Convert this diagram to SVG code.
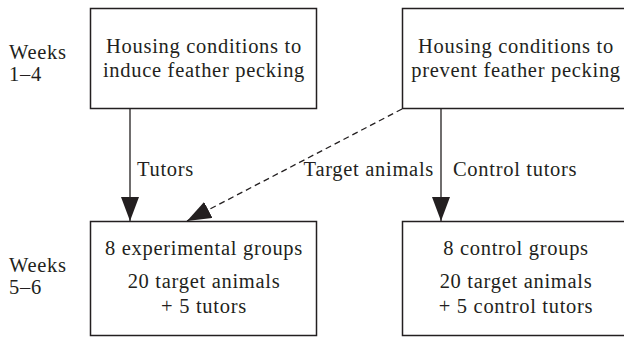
<svg xmlns="http://www.w3.org/2000/svg" width="624" height="337" viewBox="0 0 624 337">
<defs>
<style>
text{font-family:"Liberation Serif","Times New Roman",serif;font-size:20.5px;letter-spacing:0.7px;fill:#231f20}
.c{text-anchor:middle}
.box{fill:#fff;stroke:#231f20;stroke-width:1.5}
.ln{stroke:#231f20;stroke-width:1.3;fill:none}
.dash{stroke-dasharray:6 4}
</style>
<marker id="ah" markerUnits="userSpaceOnUse" viewBox="0 0 24 18" refX="24" refY="9" markerWidth="24" markerHeight="18" orient="auto">
<path d="M0,0 L24,9 L0,18 z" fill="#231f20"/>
</marker>
</defs>
<rect width="624" height="337" fill="#fff"/>
<g id="labels">
<text x="9" y="59">Weeks</text>
<text x="9" y="81">1–4</text>
<text x="9" y="272">Weeks</text>
<text x="9" y="294">5–6</text>
</g>
<g id="connectors">
<line class="ln" x1="130" y1="109" x2="130" y2="221" marker-end="url(#ah)"/>
<line class="ln" x1="441" y1="109" x2="441" y2="221" marker-end="url(#ah)"/>
<line class="ln dash" x1="402" y1="109" x2="187" y2="221" marker-end="url(#ah)"/>
<text x="434" y="176" text-anchor="end">Target animals</text>
<text x="137" y="176">Tutors</text>
<text x="453" y="176">Control tutors</text>
</g>
<g id="induce">
<rect class="box" x="90.5" y="8.5" width="226" height="100"/>
<text class="c" x="204" y="53">Housing conditions to</text>
<text class="c" x="204" y="77">induce feather pecking</text>
</g>
<g id="prevent">
<rect class="box" x="402.5" y="8.5" width="230" height="100"/>
<text class="c" x="516" y="53">Housing conditions to</text>
<text class="c" x="516" y="77">prevent feather pecking</text>
</g>
<g id="experimental">
<rect class="box" x="90.5" y="221.5" width="226" height="114"/>
<text class="c" x="204" y="255">8 experimental groups</text>
<text class="c" x="204" y="288">20 target animals</text>
<text class="c" x="204" y="313">+ 5 tutors</text>
</g>
<g id="control">
<rect class="box" x="402.5" y="221.5" width="230" height="114"/>
<text class="c" x="516" y="255">8 control groups</text>
<text class="c" x="516" y="288">20 target animals</text>
<text class="c" x="516" y="313">+ 5 control tutors</text>
</g>
</svg>
